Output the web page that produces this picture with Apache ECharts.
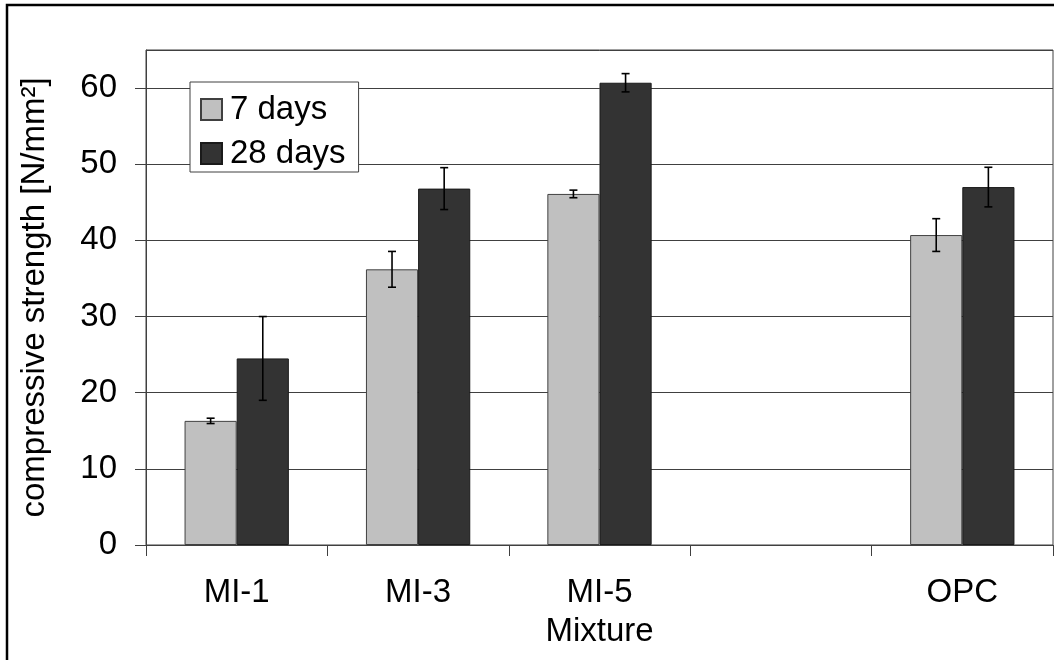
<!DOCTYPE html>
<html>
<head>
<meta charset="utf-8">
<script src="https://cdn.jsdelivr.net/npm/echarts@6/dist/echarts.min.js"></script>
<style>
html,body{margin:0;padding:0;background:#fff;}
#chart{width:1054px;height:660px;}
</style>
</head>
<body>
<div id="chart"></div>
<script>
const categories = ['MI-1', 'MI-3', 'MI-5', '', 'OPC'];
const seriesNames = ['7 days', '28 days'];
const days7 = [16.3, 36.2, 46.1, null, 40.7];
const days7Err = [0.35, 2.35, 0.5, null, 2.15];
const days28 = [24.5, 46.8, 60.7, null, 47.0];
const days28Err = [5.5, 2.75, 1.2, null, 2.6];
const yTicks = [0, 10, 20, 30, 40, 50, 60];

const FONT = 'Liberation Sans';
const FS = 33;
const CAT_GAP = 0.425;

function errData(vals, errs) {
  const out = [];
  vals.forEach((v, i) => {
    if (v != null) out.push([i, v - errs[i], v + errs[i]]);
  });
  return out;
}

function makeErrRender(seriesIdx) {
  return function (params, api) {
    const idx = api.value(0);
    const lo = api.coord([idx, api.value(1)]);
    const hi = api.coord([idx, api.value(2)]);
    const band = api.size([1, 0])[0];
    const barW = band * (1 - CAT_GAP) / 2;
    const x = lo[0] + (seriesIdx - 0.5) * barW;
    const cap = 4;
    const st = { stroke: '#000', lineWidth: 1.6 };
    return {
      type: 'group',
      children: [
        { type: 'line', shape: { x1: x, y1: lo[1], x2: x, y2: hi[1] }, style: st },
        { type: 'line', shape: { x1: x - cap, y1: lo[1], x2: x + cap, y2: lo[1] }, style: st },
        { type: 'line', shape: { x1: x - cap, y1: hi[1], x2: x + cap, y2: hi[1] }, style: st }
      ]
    };
  };
}

const chart = echarts.init(document.getElementById('chart'), null, { renderer: 'canvas' });
const axisColor = '#404040';
chart.setOption({
  animation: false,
  backgroundColor: '#fff',
  textStyle: { fontFamily: FONT },
  graphic: [{
    type: 'rect',
    shape: { x: 7, y: 5, width: 1200, height: 800 },
    style: { fill: 'none', stroke: '#000', lineWidth: 2.5 },
    z: 100
  }],
  grid: {
    left: 146, right: 1, top: 50, bottom: 115,
    show: true, borderColor: axisColor, borderWidth: 1, backgroundColor: 'transparent'
  },
  legend: {
    orient: 'vertical',
    left: 190, top: 82,
    data: seriesNames,
    backgroundColor: '#fff',
    borderColor: axisColor,
    borderWidth: 1,
    borderRadius: 0,
    padding: [11, 13, 2, 10],
    itemGap: 11,
    itemWidth: 21,
    itemHeight: 21,
    icon: 'rect',
    textStyle: { fontFamily: FONT, fontSize: FS, color: '#000', padding: [0, 0, 0, 3] }
  },
  xAxis: {
    type: 'category',
    data: categories,
    name: 'Mixture',
    nameLocation: 'middle',
    nameGap: 70,
    nameTextStyle: { fontFamily: FONT, fontSize: FS, color: '#000' },
    axisLine: { show: true, lineStyle: { color: axisColor, width: 1 } },
    axisTick: { show: true, length: 11, interval: 0, lineStyle: { color: axisColor } },
    axisLabel: { fontFamily: FONT, fontSize: FS, color: '#000', margin: 31, interval: 0 },
    splitLine: { show: false }
  },
  yAxis: {
    type: 'value',
    min: 0, max: 65, interval: 10,
    name: 'compressive strength [N/mm²]',
    nameLocation: 'middle',
    nameGap: 95,
    nameRotate: 90,
    nameTextStyle: { fontFamily: FONT, fontSize: FS, color: '#000' },
    axisLine: { show: true, lineStyle: { color: axisColor, width: 1 } },
    axisTick: { show: true, length: 11, lineStyle: { color: axisColor } },
    axisLabel: {
      fontFamily: FONT, fontSize: FS, color: '#000', margin: 29,
      showMaxLabel: false,
      formatter: v => (yTicks.indexOf(v) >= 0 ? String(v) : '')
    },
    splitLine: { show: true, lineStyle: { color: axisColor, width: 1 } }
  },
  series: [
    {
      name: seriesNames[0], type: 'bar', data: days7,
      barCategoryGap: (CAT_GAP * 100) + '%', barGap: '0%',
      itemStyle: { color: '#c0c0c0', borderColor: '#404040', borderWidth: 1 },
      z: 2
    },
    {
      name: seriesNames[1], type: 'bar', data: days28,
      barCategoryGap: (CAT_GAP * 100) + '%', barGap: '0%',
      itemStyle: { color: '#333333', borderColor: '#1a1a1a', borderWidth: 1 },
      z: 2
    },
    {
      name: 'err7', type: 'custom', data: errData(days7, days7Err),
      renderItem: makeErrRender(0), encode: { x: 0, y: [1, 2] }, z: 5, silent: true
    },
    {
      name: 'err28', type: 'custom', data: errData(days28, days28Err),
      renderItem: makeErrRender(1), encode: { x: 0, y: [1, 2] }, z: 5, silent: true
    }
  ]
});
</script>
</body>
</html>
